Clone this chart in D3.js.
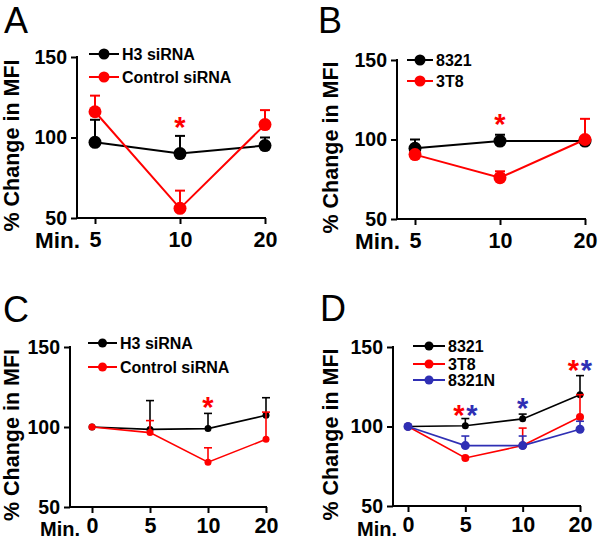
<!DOCTYPE html>
<html><head><meta charset="utf-8">
<script src="https://cdn.jsdelivr.net/npm/d3@7"></script>
<style>
body{margin:0;background:#fff;}
svg{display:block;font-family:"Liberation Sans",Arial,sans-serif;}
</style></head>
<body>
<script>
// ---------- DATA ----------
const catsAB = ["5", "10", "20"];
const catsCD = ["0", "5", "10", "20"];
const yTicks = [50, 100, 150];

// Panel A
const aH3 = [97, 90, 95];
const aH3Err = [14, 11, 5];
const aCtrl = [116, 56, 108];
const aCtrlErr = [10, 11, 9];
// Panel B
const b8321 = [94.5, 99, 99];
const b8321Err = [5.5, 4, 1];
const b3T8 = [90.5, 76, 100];
const b3T8Err = [1, 4, 13];
// Panel C
const cH3 = [100, 98.5, 99, 107.3];
const cH3Err = [0, 18, 9.5, 11];
const cCtrl = [100, 96.5, 78, 92.3];
const cCtrlErr = [0, 7.5, 9, 17];
// Panel D
const d8321 = [100, 100.5, 104.8, 120];
const d8321Err = [0, 4.5, 3, 12];
const d3T8 = [100, 80.2, 88, 106];
const d3T8Err = [0, 0, 11, 14];
const d8321N = [100, 88, 88, 98.3];
const d8321NErr = [0, 6, 6, 5];

// significance stars: category, level (data units), series
const starsA = [{cat: "10", level: 110, s: "red"}];
const starsB = [{cat: "10", level: 113.5, s: "red"}];
const starsC = [{cat: "10", level: 116, s: "red"}];
const starsD = [
  {cat: "5", level: 111, s: "red", side: -1}, {cat: "5", level: 111, s: "blue", side: 1},
  {cat: "10", level: 115.5, s: "blue", side: 0},
  {cat: "20", level: 139, s: "red", side: -1}, {cat: "20", level: 139, s: "blue", side: 1}
];

const COLORS = {black: "#000000", red: "#ff0000", blue: "#2f2fb4"};

// ---------- DRAW ----------
const svg = d3.select("body").append("svg").attr("width", 600).attr("height", 540);

function panel(cfg) {
  const g = svg.append("g");
  const x = d3.scalePoint().domain(cfg.cats).range([cfg.xFirst, cfg.xLast]);
  const y = d3.scaleLinear().domain([50, 150]).range([cfg.bottom, cfg.top]);

  // panel letter
  g.append("text").attr("x", cfg.letterX).attr("y", cfg.letterY)
    .attr("font-size", 36).attr("font-weight", "normal").text(cfg.letter);

  // y axis title
  g.append("text")
    .attr("transform", `translate(${cfg.titleX},${(cfg.top + cfg.bottom) / 2 + 8}) rotate(-90)`)
    .attr("text-anchor", "middle").attr("font-size", 21.5).attr("font-weight", "bold")
    .text("% Change in MFI");

  // y axis
  const ya = g.append("g").attr("transform", `translate(${cfg.ox},0)`)
    .call(d3.axisLeft(y).tickValues(yTicks).tickSize(6).tickPadding(4));
  ya.select(".domain").remove();
  ya.selectAll(".tick line").attr("stroke", "#000").attr("stroke-width", 2);
  ya.selectAll(".tick text").attr("font-size", 19.5).attr("font-weight", "bold")
    .attr("font-family", "Liberation Sans, Arial, sans-serif").attr("fill", "#000");
  g.append("line").attr("x1", cfg.ox).attr("x2", cfg.ox)
    .attr("y1", y(150) - 1).attr("y2", y(50) + 1).attr("stroke", "#000").attr("stroke-width", 2);

  // x axis
  const xa = g.append("g").attr("transform", `translate(0,${cfg.bottom})`)
    .call(d3.axisBottom(x).tickSize(6).tickPadding(cfg.xPad));
  xa.select(".domain").remove();
  xa.selectAll(".tick line").attr("stroke", "#000").attr("stroke-width", 2);
  xa.selectAll(".tick text").attr("font-size", 21.5).attr("font-weight", "bold")
    .attr("font-family", "Liberation Sans, Arial, sans-serif").attr("fill", "#000");
  g.append("line").attr("x1", cfg.ox - 1).attr("x2", x(cfg.cats[cfg.cats.length - 1]) + 1)
    .attr("y1", cfg.bottom).attr("y2", cfg.bottom).attr("stroke", "#000").attr("stroke-width", 2);
  g.append("text").attr("x", cfg.minX).attr("y", cfg.bottom + cfg.minDy)
    .attr("text-anchor", "end").attr("font-size", cfg.minSize).attr("font-weight", "bold").text("Min.");

  // series
  cfg.series.forEach(s => {
    const col = COLORS[s.color];
    const pts = cfg.cats.map((c, i) => ({c, v: s.values[i], e: s.err[i]}));
    // error bars (upper)
    pts.filter(p => p.e > 0).forEach(p => {
      g.append("line").attr("x1", x(p.c)).attr("x2", x(p.c))
        .attr("y1", y(p.v)).attr("y2", y(p.v + p.e)).attr("stroke", col).attr("stroke-width", cfg.lw);
      g.append("line").attr("x1", x(p.c) - cfg.cap).attr("x2", x(p.c) + cfg.cap)
        .attr("y1", y(p.v + p.e)).attr("y2", y(p.v + p.e)).attr("stroke", col).attr("stroke-width", cfg.lw);
    });
    g.append("path").datum(pts)
      .attr("d", d3.line().x(p => x(p.c)).y(p => y(p.v)))
      .attr("fill", "none").attr("stroke", col).attr("stroke-width", cfg.lw);
    g.selectAll(null).data(pts).enter().append("circle")
      .attr("cx", p => x(p.c)).attr("cy", p => y(p.v)).attr("r", s.r).attr("fill", col);
  });

  // legend
  cfg.series.forEach((s, i) => {
    const col = COLORS[s.color];
    const ly = cfg.legY[i];
    g.append("line").attr("x1", cfg.legX1).attr("x2", cfg.legX2).attr("y1", ly).attr("y2", ly)
      .attr("stroke", col).attr("stroke-width", 2);
    g.append("circle").attr("cx", (cfg.legX1 + cfg.legX2) / 2).attr("cy", ly).attr("r", cfg.legR).attr("fill", col);
    g.append("text").attr("x", cfg.legX2 + 3).attr("y", ly).attr("dy", "0.36em")
      .attr("font-size", 16).attr("font-weight", "bold").text(s.name);
  });

  // stars
  cfg.stars.forEach(st => {
    g.append("text").attr("x", x(st.cat) + (st.side || 0) * 6.5).attr("y", y(st.level) + 16)
      .attr("text-anchor", "middle").attr("font-size", 29).attr("font-weight", "bold")
      .attr("fill", COLORS[st.s]).text("*");
  });
}

panel({letter: "A", letterX: 4, letterY: 33, titleX: 19, ox: 77, top: 57, bottom: 218,
  xFirst: 95, xLast: 265, cats: catsAB, minX: 80, lw: 2, cap: 5, xPad: 8, minDy: 30, minSize: 22.5,
  series: [
    {name: "H3 siRNA", color: "black", values: aH3, err: aH3Err, r: 6.5},
    {name: "Control siRNA", color: "red", values: aCtrl, err: aCtrlErr, r: 6.5}],
  legX1: 89, legX2: 119, legY: [54, 77], legR: 5.5, stars: starsA});

panel({letter: "B", letterX: 318, letterY: 33, titleX: 338, ox: 397, top: 60, bottom: 219,
  xFirst: 415, xLast: 585, cats: catsAB, minX: 400, lw: 2, cap: 5, xPad: 8, minDy: 30, minSize: 22.5,
  series: [
    {name: "8321", color: "black", values: b8321, err: b8321Err, r: 6.5},
    {name: "3T8", color: "red", values: b3T8, err: b3T8Err, r: 6.5}],
  legX1: 407, legX2: 433, legY: [60, 81], legR: 5.5, stars: starsB});

panel({letter: "C", letterX: 3, letterY: 322, titleX: 19, ox: 70, top: 347, bottom: 507,
  xFirst: 92, xLast: 266, cats: catsCD, minX: 80, lw: 1.6, cap: 4, xPad: 5, minDy: 28.5, minSize: 20,
  series: [
    {name: "H3 siRNA", color: "black", values: cH3, err: cH3Err, r: 3.5},
    {name: "Control siRNA", color: "red", values: cCtrl, err: cCtrlErr, r: 3.5}],
  legX1: 88, legX2: 117, legY: [343, 367], legR: 4.5, stars: starsC});

panel({letter: "D", letterX: 320, letterY: 321, titleX: 338, ox: 393, top: 347, bottom: 506,
  xFirst: 408, xLast: 580, cats: catsCD, minX: 397, lw: 1.6, cap: 4, xPad: 5, minDy: 29.5, minSize: 20,
  series: [
    {name: "8321", color: "black", values: d8321, err: d8321Err, r: 3.5},
    {name: "3T8", color: "red", values: d3T8, err: d3T8Err, r: 4},
    {name: "8321N", color: "blue", values: d8321N, err: d8321NErr, r: 4.5}],
  legX1: 413, legX2: 445, legY: [346, 364, 380], legR: 4.5, stars: starsD});
</script>
</body></html>
